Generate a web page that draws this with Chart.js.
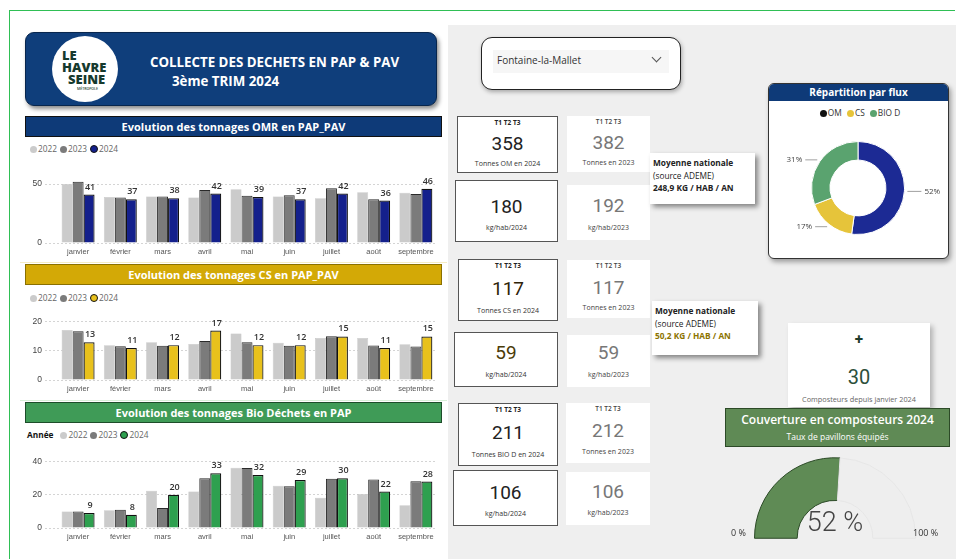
<!DOCTYPE html>
<html lang="fr">
<head>
<meta charset="UTF-8">
<title>Collecte des déchets en PAP & PAV</title>
<script src="https://cdn.jsdelivr.net/npm/chart.js"></script>
<style>
  body{margin:0;width:956px;height:559px;position:relative;overflow:hidden;background:#fff;font-family:"Open Sans",sans-serif;color:#333;}
  div,canvas,span{position:absolute;}
  .frame{left:9px;top:10px;width:945px;height:560px;border:1.5px solid #2fbf55;border-right:none;border-bottom:none;}
  .grayzone{left:448px;top:25px;width:508px;height:534px;background:#efefef;}
  .header{left:25px;top:32px;width:410px;height:72px;background:#0f3e7b;border-radius:9px;border:1px solid #08264d;box-shadow:2px 3px 4px rgba(0,0,0,.45);}
  .logo{left:52px;top:36px;width:66px;height:66px;border-radius:50%;background:#fff;}
  .logo span{font-weight:800;color:#163a2e;font-size:13px;line-height:12px;}
  .htitle{color:#fff;font-weight:700;font-size:13.3px;white-space:nowrap;}
  .select{left:481px;top:37px;width:198px;height:51px;border:1.5px solid #222;border-radius:11px;background:#fff;box-shadow:1px 2px 4px rgba(0,0,0,.3);}
  .bar{height:19px;color:#fff;font-weight:700;font-size:11px;line-height:19px;text-align:center;border:1px solid #111;}
  .legend{font-size:8.3px;color:#666;white-space:nowrap;}
  .legend i{display:inline-block;width:7px;height:7px;border-radius:50%;margin:0 1px 0 3px;vertical-align:-1px;}
  .card{background:#fff;text-align:center;}
  .card.b{border:1.3px solid #555;}
  .card .t{left:0;width:100%;top:1px;font-size:6.5px;font-weight:700;color:#222;}
  .card .n{left:0;width:100%;font-family:Roboto,sans-serif;font-size:19px;color:#222;}
  .card .s{left:0;width:100%;font-size:7px;color:#333;}
  .card.g .n{color:#777;}
  .card.g .t,.card.g .s{color:#444;font-weight:400;}
  .card.g .t{font-weight:600;}
  .moy{background:#fff;box-shadow:3px 3px 5px rgba(0,0,0,.45);font-size:8.3px;line-height:12.5px;padding:4px 0 0 3px;white-space:nowrap;color:#222;}
  .moy b{font-weight:700;}
</style>
</head>
<body>
<div class="grayzone"></div>
<div class="frame"></div>

<!-- en-tete -->
<div class="header"></div>
<div class="logo">
  <span style="left:10px;top:13px;">LE</span>
  <span style="left:10px;top:25px;">HAVRE</span>
  <span style="left:16px;top:37px;">SEINE</span>
  <span style="left:25px;top:51px;font-size:3.5px;line-height:4px;font-weight:600;">MÉTROPOLE</span>
</div>
<div class="htitle" style="left:150px;top:53px;">COLLECTE DES DECHETS EN PAP &amp; PAV</div>
<div class="htitle" style="left:172px;top:72px;">3ème TRIM 2024</div>

<div class="select">
  <div style="left:11px;top:12px;width:176px;height:23px;background:#f6f6f6;"></div>
  <div style="left:15px;top:15px;font-size:10px;color:#333;">Fontaine-la-Mallet</div>
  <div style="left:171px;top:16px;width:6px;height:6px;border-right:1.3px solid #555;border-bottom:1.3px solid #555;transform:rotate(45deg);"></div>
</div>

<!-- graphiques -->
<div class="bar" style="left:25px;top:116px;width:415px;background:#0e3a78;">Evolution des tonnages OMR en PAP_PAV</div>
<div class="legend" id="legOmr" style="left:27px;top:143px;"></div>
<canvas id="omr" width="420" height="91" style="left:25px;top:170px;"></canvas>

<div style="left:20px;top:262px;width:427px;height:1px;background:#f5ecc4;"></div>
<div class="bar" style="left:25px;top:264px;width:415px;background:#d3a906;border-color:#8a7000;">Evolution des tonnages CS en PAP_PAV</div>
<div class="legend" id="legCs" style="left:27px;top:292px;"></div>
<canvas id="cs" width="420" height="90" style="left:25px;top:308px;"></canvas>

<div style="left:20px;top:400px;width:427px;height:1px;background:#d8efd8;"></div>
<div class="bar" style="left:25px;top:402px;width:415px;background:#3f9b57;border-color:#1d4d2a;">Evolution des tonnages Bio Déchets en PAP</div>
<div class="legend" id="legBio" style="left:27px;top:429px;"><b style="color:#111;margin-right:4px;">Année</b></div>
<canvas id="bio" width="420" height="99" style="left:25px;top:447px;"></canvas>

<!-- KPI OM -->
<div class="card b" style="left:457px;top:116px;width:99px;height:55px;">
  <div class="t">T1 T2 T3</div><div class="n" style="top:15px;">358</div><div class="s" style="top:42px;">Tonnes OM en 2024</div></div>
<div class="card g" style="left:567px;top:116px;width:83px;height:56px;">
  <div class="t">T1 T2 T3</div><div class="n" style="top:15px;">382</div><div class="s" style="top:42px;">Tonnes en 2023</div></div>
<div class="card b" style="left:455px;top:180px;width:101px;height:60px;">
  <div class="n" style="top:14px;">180</div><div class="s" style="top:42px;">kg/hab/2024</div></div>
<div class="card g" style="left:567px;top:185px;width:83px;height:55px;">
  <div class="n" style="top:9px;">192</div><div class="s" style="top:38px;">kg/hab/2023</div></div>
<div class="moy" style="left:650px;top:153px;width:102px;height:47px;">
  <b>Moyenne nationale</b><br>(source ADEME)<br><b>248,9 KG / HAB / AN</b></div>

<!-- KPI CS -->
<div class="card b" style="left:458px;top:259px;width:98px;height:60px;">
  <div class="t">T1 T2 T3</div><div class="n" style="top:17px;color:#2e2408;">117</div><div class="s" style="top:46px;">Tonnes CS en 2024</div></div>
<div class="card g" style="left:567px;top:260px;width:83px;height:58px;">
  <div class="t">T1 T2 T3</div><div class="n" style="top:16px;">117</div><div class="s" style="top:43px;">Tonnes en 2023</div></div>
<div class="card b" style="left:454px;top:332px;width:102px;height:53px;">
  <div class="n" style="top:8px;color:#4a3b08;">59</div><div class="s" style="top:37px;">kg/hab/2024</div></div>
<div class="card g" style="left:567px;top:335px;width:83px;height:52px;">
  <div class="n" style="top:6px;">59</div><div class="s" style="top:35px;">kg/hab/2023</div></div>
<div class="moy" style="left:652px;top:301px;width:103px;height:50px;">
  <b>Moyenne nationale</b><br>(source ADEME)<br><b style="color:#8c7300;">50,2 KG / HAB / AN</b></div>

<!-- KPI BIO -->
<div class="card b" style="left:458px;top:403px;width:98px;height:61px;">
  <div class="t">T1 T2 T3</div><div class="n" style="top:17px;">211</div><div class="s" style="top:46px;">Tonnes BIO D en 2024</div></div>
<div class="card g" style="left:566px;top:403px;width:84px;height:60px;">
  <div class="t">T1 T2 T3</div><div class="n" style="top:16px;">212</div><div class="s" style="top:44px;">Tonnes en 2023</div></div>
<div class="card b" style="left:453px;top:470px;width:103px;height:54px;">
  <div class="n" style="top:10px;">106</div><div class="s" style="top:38px;">kg/hab/2024</div></div>
<div class="card g" style="left:566px;top:472px;width:84px;height:53px;">
  <div class="n" style="top:8px;">106</div><div class="s" style="top:36px;">kg/hab/2023</div></div>

<!-- repartition -->
<div style="left:768px;top:83px;width:179px;height:174px;background:#fff;border:1px solid #333;border-radius:6px;box-shadow:2px 3px 5px rgba(0,0,0,.35);overflow:hidden;">
  <div style="left:0;top:0;width:100%;height:17px;background:#0e3a78;color:#fff;font-weight:700;font-size:10px;line-height:17px;text-align:center;">Répartition par flux</div>
  <div class="legend" id="legFlux" style="left:0;top:23px;width:100%;text-align:center;color:#333;"></div>
</div>
<canvas id="flux" width="176" height="140" style="left:770px;top:118px;"></canvas>

<!-- composteurs -->
<div style="left:788px;top:323px;width:142px;height:84px;background:#fff;box-shadow:3px 3px 5px rgba(0,0,0,.25);text-align:center;">
  <div style="left:0;width:100%;top:6px;font-size:15px;font-weight:800;color:#1d3a2a;">+</div>
  <div style="left:0;width:100%;top:42px;font-family:Roboto,sans-serif;font-size:20px;color:#2d4f3a;">30</div>
  <div style="left:0;width:100%;top:71px;font-size:7.3px;color:#666;white-space:nowrap;">Composteurs depuis janvier 2024</div>
</div>
<div style="left:725px;top:408px;width:223px;height:37px;background:#5f8a55;border:1px solid #2c4a27;color:#fff;text-align:center;">
  <div style="left:0;width:100%;top:2px;font-size:12px;font-weight:600;">Couverture en composteurs 2024</div>
  <div style="left:0;width:100%;top:22px;font-size:8.5px;">Taux de pavillons équipés</div>
</div>
<canvas id="gauge" width="166" height="84" style="left:752px;top:455px;"></canvas>
<div style="left:800px;top:506px;width:70px;text-align:center;font-family:Roboto,sans-serif;font-weight:300;font-size:27px;color:#444;" id="gaugeTxt"></div>
<div style="left:731px;top:526px;font-size:9px;color:#333;">0 %</div>
<div style="left:913px;top:526px;font-size:9px;color:#333;">100 %</div>

<script>
const months = ['janvier','février','mars','avril','mai','juin','juillet','août','septembre'];
const years = ['2022','2023','2024'];

// tonnages OMR (PAP + PAV)
const omr2022 = [50,39,39.5,38.5,45.5,39.5,38,43,42.5];
const omr2023 = [52,38.5,39.5,45,40,40.5,46.5,37,41.5];
const omr2024 = [41,37,38,42,39,37,42,36,46];
// tonnages CS
const cs2022 = [17.2,12,13,12.4,16,12.8,14.5,14.5,12.3];
const cs2023 = [16.8,11.6,11.8,13.4,13,11.8,15.1,11.9,11.5];
const cs2024 = [13,11,12,17,12,12,15,11,15];
// tonnages bio dechets
const bio2022 = [10,10.7,22.5,22,36.3,25.5,18.2,20.5,13.8];
const bio2023 = [10,11,12,30,36.2,25.2,29.8,29.2,28.2];
const bio2024 = [9,8,20,33,32,29,30,22,28];

const omrTicks = [0,50];
const csTicks = [0,10,20];
const bioTicks = [0,20,40];

const fluxLabels = ['OM','CS','BIO D'];
const fluxTonnes = [358,117,211];
const couverture = 52;

const col2022 = '#cbcbcb';
const col2023 = '#7b7b7b';
const colFlux = ['#1c2a94','#e6c43a','#5aa36f'];

// legendes html
function legend(id, c24){
  const cols = [col2022, col2023, c24];
  let h = document.getElementById(id).innerHTML;
  years.forEach((y,i)=>{
    const bd = i==2 ? 'border:1.3px solid #111;width:6px;height:6px;' : '';
    h += '<i style="background:'+cols[i]+';'+bd+'"></i>'+y;
  });
  document.getElementById(id).innerHTML = h;
}
legend('legOmr','#14208c');
legend('legCs','#e8c11c');
legend('legBio','#2ea04f');
document.getElementById('legFlux').innerHTML = fluxLabels.map((l,i)=>
  '<i style="background:'+(i==0?'#111':colFlux[i])+'"></i>'+l).join(' ');
document.getElementById('gaugeTxt').textContent = couverture + ' %';

// valeurs au dessus des barres 2024
const valueLabels = {
  id:'valueLabels',
  afterDatasetsDraw(chart){
    const ctx = chart.ctx;
    const meta = chart.getDatasetMeta(2);
    const data = chart.data.datasets[2].data;
    ctx.save();
    ctx.font = '600 9px "Open Sans"';
    ctx.fillStyle = '#333';
    ctx.textAlign = 'center';
    ctx.textBaseline = 'bottom';
    meta.data.forEach((b,i)=>{ ctx.fillText(data[i], b.x+1, b.y-3); });
    ctx.restore();
  }
};

function barChart(id, d22, d23, d24, c24, yMax, ticks){
  new Chart(document.getElementById(id), {
    type:'bar',
    data:{
      labels: months,
      datasets:[
        {label:years[0], data:d22, backgroundColor:col2022, borderColor:'#bdbdbd', borderWidth:0.5},
        {label:years[1], data:d23, backgroundColor:col2023, borderColor:'#2a2a2a', borderWidth:1},
        {label:years[2], data:d24, backgroundColor:c24, borderColor:'#111', borderWidth:1.2}
      ]
    },
    options:{
      responsive:false, animation:false,
      categoryPercentage:0.78, barPercentage:1,
      layout:{padding:{top:4,right:8,left:0,bottom:0}},
      plugins:{legend:{display:false}, tooltip:{enabled:false}},
      scales:{
        x:{
          grid:{display:false, drawTicks:false}, border:{display:false},
          ticks:{font:{size:7.5}, color:'#555', padding:4, maxRotation:0, autoSkip:false},
          afterFit(s){ s.height = 18; }
        },
        y:{
          min:0, max:yMax,
          afterBuildTicks(s){ s.ticks = ticks.map(v=>({value:v})); },
          ticks:{font:{size:8.5}, color:'#444', padding:3},
          grid:{color:'#d4d4d4', tickColor:'#d4d4d4', tickLength:12, tickBorderDash:[2,2]},
          border:{display:false, dash:[2,2]},
          afterFit(s){ s.width = 32; }
        }
      }
    },
    plugins:[valueLabels]
  });
}
barChart('omr', omr2022, omr2023, omr2024, '#14208c', 55, omrTicks);
barChart('cs', cs2022, cs2023, cs2024, '#e8c11c', 22, csTicks);
barChart('bio', bio2022, bio2023, bio2024, '#2ea04f', 44, bioTicks);

// repartition par flux
const donutLabels = {
  id:'donutLabels',
  afterDatasetsDraw(chart){
    const ctx = chart.ctx;
    const meta = chart.getDatasetMeta(0);
    const total = fluxTonnes.reduce((a,b)=>a+b,0);
    ctx.save();
    ctx.font = '8px "Open Sans"';
    ctx.fillStyle = '#444';
    ctx.strokeStyle = '#888';
    ctx.lineWidth = 0.8;
    ctx.textBaseline = 'middle';
    meta.data.forEach((arc,i)=>{
      const a = (arc.startAngle+arc.endAngle)/2;
      const r = arc.outerRadius + 3;
      const x1 = arc.x + Math.cos(a)*r, y1 = arc.y + Math.sin(a)*r;
      const right = Math.cos(a) >= 0;
      const x2 = x1 + (right ? 14 : -12);
      ctx.beginPath(); ctx.moveTo(x1,y1); ctx.lineTo(x2,y1); ctx.stroke();
      ctx.textAlign = right ? 'left' : 'right';
      ctx.fillText(Math.round(fluxTonnes[i]/total*100)+'%', x2 + (right ? 3 : -3), y1);
    });
    ctx.restore();
  }
};
new Chart(document.getElementById('flux'), {
  type:'doughnut',
  data:{labels:fluxLabels, datasets:[{data:fluxTonnes, backgroundColor:colFlux, borderColor:'#fff', borderWidth:1}]},
  options:{
    responsive:false, animation:false, cutout:'60%',
    layout:{padding:{top:23,bottom:23}},
    plugins:{legend:{display:false}, tooltip:{enabled:false}}
  },
  plugins:[donutLabels]
});

// jauge couverture composteurs
new Chart(document.getElementById('gauge'), {
  type:'doughnut',
  data:{labels:['équipés','reste'], datasets:[{data:[couverture,100-couverture],
    backgroundColor:['#5f8b55','#eeeeee'], borderColor:['#2c4a27','#e6e6e6'], borderWidth:1}]},
  options:{
    responsive:false, animation:false, rotation:-90, circumference:180, cutout:'47%',
    layout:{padding:{left:2,right:2,top:2,bottom:0}},
    plugins:{legend:{display:false}, tooltip:{enabled:false}}
  }
});
</script>
</body>
</html>
